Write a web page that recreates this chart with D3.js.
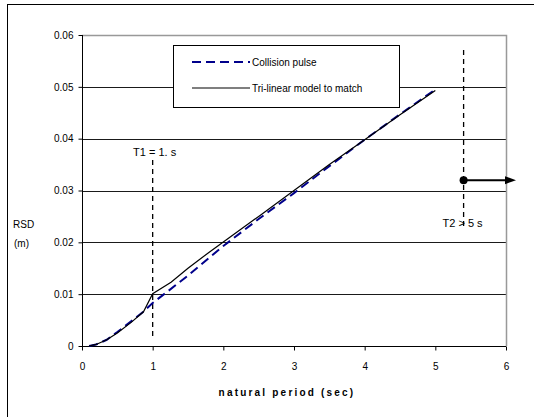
<!DOCTYPE html>
<html>
<head>
<meta charset="utf-8">
<script src="https://cdn.jsdelivr.net/npm/d3@7"></script>
<style>
  body { margin: 0; background: #fff; }
  svg text { font-family: "Liberation Sans", Arial, sans-serif; fill: #000; }
</style>
</head>
<body>
<div id="chart"></div>
<script>
// natural period (sec) and RSD (m)
var pulsePeriods = [0.1, 0.2, 0.35, 0.5, 0.7, 0.85, 1.0, 1.2, 1.5, 2.0, 2.5, 3.0, 3.5, 4.0, 4.5, 5.0];
var pulseRsd = [0, 0.0003, 0.0012, 0.0027, 0.0048, 0.0064, 0.0083, 0.0104, 0.0136, 0.0193, 0.0245, 0.0295, 0.0347, 0.0398, 0.0447, 0.0495];
var trilinPeriods = [0.1, 0.2, 0.35, 0.5, 0.7, 0.87, 1.0, 1.26, 1.5, 1.8, 2.5, 3.0, 3.5, 4.0, 4.5, 5.0];
var trilinRsd = [0, 0.0003, 0.0012, 0.0025, 0.0046, 0.0066, 0.0101, 0.0123, 0.0150, 0.0181, 0.0250, 0.0300, 0.0350, 0.0398, 0.0446, 0.0493];
var xTicks = [0, 1, 2, 3, 4, 5, 6];
var yTicks = [0, 0.01, 0.02, 0.03, 0.04, 0.05, 0.06];
var seriesNames = ["Collision pulse", "Tri-linear model to match"];
var t1 = 1.0, t2 = 5.4, t2Marker = 0.032;

var width = 534, height = 417;
var pLeft = 82, pRight = 506, pTop = 35, pBottom = 346;

var svg = d3.select("#chart").append("svg")
    .attr("width", width).attr("height", height);

// outer frame
svg.append("rect").attr("x", 7.5).attr("y", 4.5)
    .attr("width", 540).attr("height", 420)
    .attr("fill", "none").attr("stroke", "#000");

var x = d3.scaleLinear().domain([0, 6]).range([pLeft, pRight]);
var y = d3.scaleLinear().domain([0, 0.06]).range([pBottom, pTop]);

// gridlines
svg.selectAll(".grid").data(yTicks.slice(1, -1)).enter().append("line")
    .attr("x1", pLeft).attr("x2", pRight)
    .attr("y1", d => Math.round(y(d)) + 0.5).attr("y2", d => Math.round(y(d)) + 0.5)
    .attr("stroke", "#1a1a1a");

// plot border top/right (grey)
svg.append("path")
    .attr("d", "M" + pLeft + "," + (pTop + 0.5) + "H" + (pRight + 0.5) + "V" + pBottom)
    .attr("fill", "none").attr("stroke", "#999").attr("stroke-width", 1.5);

var xAxis = d3.axisBottom(x).tickValues(xTicks).tickFormat(d3.format("d"))
    .tickSize(4).tickPadding(12);
var gx = svg.append("g").attr("transform", "translate(0," + (pBottom + 0.5) + ")").call(xAxis);
gx.select(".domain").attr("d", "M" + pLeft + ",0H" + pRight);
gx.selectAll("text").style("font-size", "10px");

var yAxis = d3.axisLeft(y).tickValues(yTicks).tickFormat(d => d === 0 ? "0" : d3.format(".2f")(d))
    .tickSize(4).tickPadding(5);
var gy = svg.append("g").attr("transform", "translate(" + (pLeft + 0.5) + ",0)").call(yAxis);
gy.select(".domain").attr("d", "M0," + pTop + "V" + pBottom);
gy.selectAll("text").style("font-size", "10px");

// axis titles
svg.append("text").attr("x", 287).attr("y", 396).attr("text-anchor", "middle")
    .style("font-size", "10px").style("font-weight", "bold").style("letter-spacing", "2.2px")
    .text("natural period (sec)");
svg.append("text").attr("x", 13).attr("y", 228).style("font-size", "10px").text("RSD");
svg.append("text").attr("x", 14).attr("y", 247).style("font-size", "10px").text("(m)");

// T1 / T2 markers
svg.append("line").attr("x1", x(t1)).attr("x2", x(t1)).attr("y1", 160).attr("y2", pBottom - 8)
    .attr("stroke", "#000").attr("stroke-width", 1.3).attr("stroke-dasharray", "5,4");
svg.append("text").attr("x", x(t1) + 2).attr("y", 156).attr("text-anchor", "middle")
    .style("font-size", "11px").text("T1 = 1. s");
svg.append("line").attr("x1", x(t2)).attr("x2", x(t2)).attr("y1", 50).attr("y2", 228)
    .attr("stroke", "#000").attr("stroke-width", 1.3).attr("stroke-dasharray", "5,4");
svg.append("text").attr("x", x(t2) - 1).attr("y", 227).attr("text-anchor", "middle")
    .style("font-size", "11px").text("T2 > 5 s");
svg.append("line").attr("x1", x(t2)).attr("x2", 506).attr("y1", y(t2Marker)).attr("y2", y(t2Marker))
    .attr("stroke", "#000").attr("stroke-width", 2);
svg.append("path")
    .attr("d", "M505," + (y(t2Marker) - 4) + "L516," + y(t2Marker) + "L505," + (y(t2Marker) + 4) + "Z")
    .attr("fill", "#000");
svg.append("circle").attr("cx", x(t2)).attr("cy", y(t2Marker)).attr("r", 4).attr("fill", "#000");

// series
var line = d3.line().x(d => x(d[0])).y(d => y(d[1]));
svg.append("path").datum(pulsePeriods.map((p, i) => [p, pulseRsd[i]]))
    .attr("d", line).attr("fill", "none").attr("stroke", "#00008b")
    .attr("stroke-width", 2).attr("stroke-dasharray", "9,5");
svg.append("path").datum(trilinPeriods.map((p, i) => [p, trilinRsd[i]]))
    .attr("d", line).attr("fill", "none").attr("stroke", "#000").attr("stroke-width", 1.2);

// legend
var lg = svg.append("g");
lg.append("rect").attr("x", 173.5).attr("y", 45.5).attr("width", 226).attr("height", 62)
    .attr("fill", "#fff").attr("stroke", "#000");
var rows = [{ name: seriesNames[0], color: "#00008b", dash: "9,5", w: 2 },
            { name: seriesNames[1], color: "#000", dash: null, w: 1.2 }];
rows.forEach(function (r, i) {
    var yy = 62 + i * 26;
    lg.append("line").attr("x1", 192).attr("x2", 250).attr("y1", yy).attr("y2", yy)
        .attr("stroke", r.color).attr("stroke-width", r.w).attr("stroke-dasharray", r.dash);
    lg.append("text").attr("x", 252).attr("y", yy + 4).style("font-size", "10px").text(r.name);
});
</script>
</body>
</html>
